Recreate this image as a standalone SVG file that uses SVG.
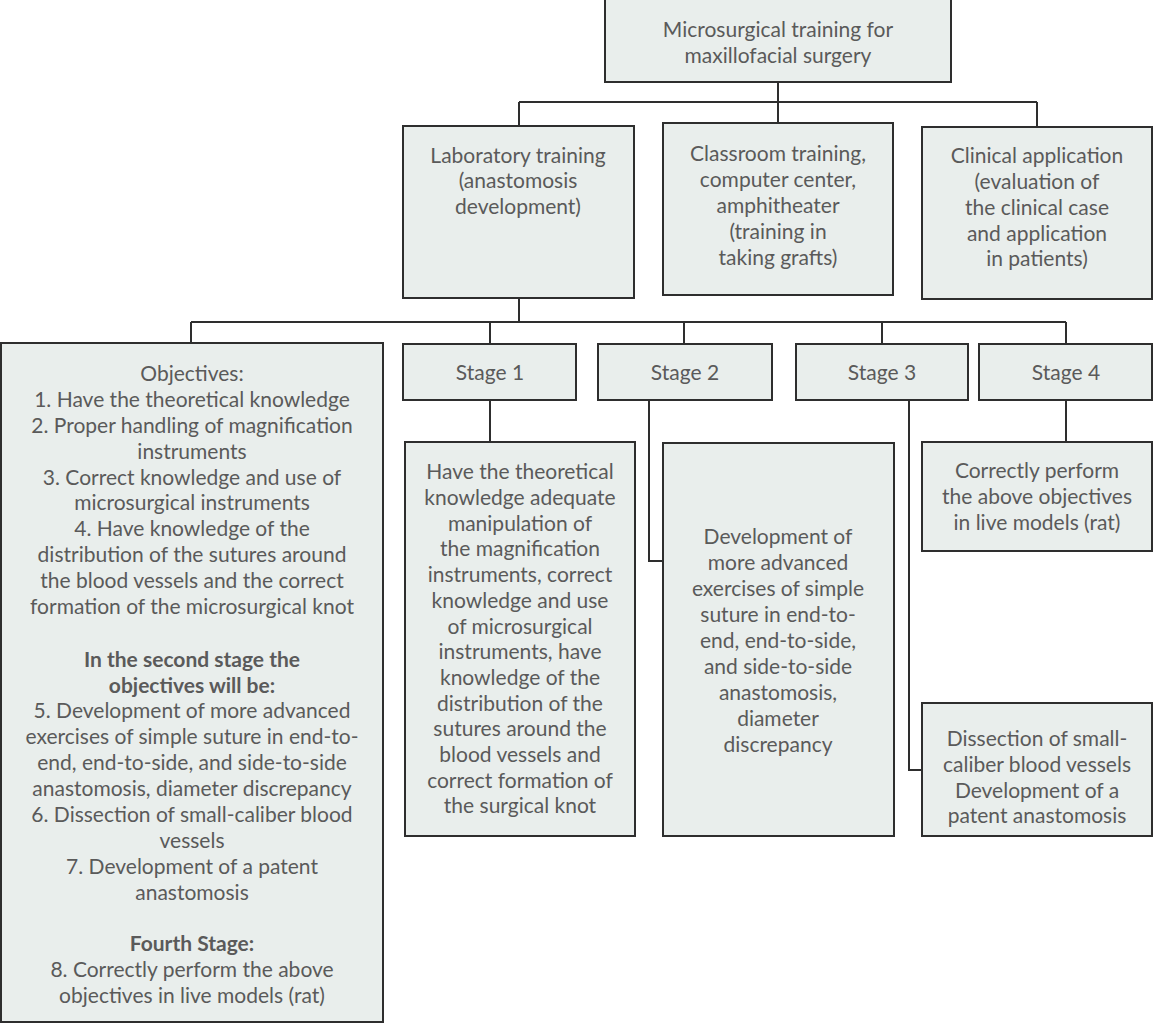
<svg xmlns="http://www.w3.org/2000/svg" width="1154" height="1024" viewBox="0 0 1154 1024">
<style>
.box{fill:#e9eeec;stroke:#2e2e2e;stroke-width:2}
.ln{fill:none;stroke:#2e2e2e;stroke-width:2}
text{font-family:Lato,"Open Sans","Liberation Sans",sans-serif;font-size:21px;fill:#5a5a5a;text-anchor:middle}
.b{font-weight:bold}
</style>
<rect width="1154" height="1024" fill="#ffffff"/>
<g id="connectors">
<path class="ln" d="M778 82V102M519 102H1037M519 102V126M778 102V123M1037 102V127"/>
<path class="ln" d="M519 298V322M191 322H1066M191 322V343M490 322V344M684 322V344M882 322V344M1066 322V344"/>
<path class="ln" d="M490 400V442M649 400V561H663M909 400V770H922M1066 400V442"/>
</g>
<g id="root"><rect class="box" x="605" y="-1" width="346" height="83"/>
<text x="778" y="37">Microsurgical training for</text><text x="778" y="63">maxillofacial surgery</text></g>
<g id="lab"><rect class="box" x="403" y="126" width="231" height="172"/>
<text x="518" y="163">Laboratory training</text><text x="518" y="188">(anastomosis</text><text x="518" y="214">development)</text></g>
<g id="classroom"><rect class="box" x="663" y="123" width="230" height="172"/>
<text x="778" y="161">Classroom training,</text><text x="778" y="187">computer center,</text><text x="778" y="213">amphitheater</text><text x="778" y="239">(training in</text><text x="778" y="265">taking grafts)</text></g>
<g id="clinical"><rect class="box" x="922" y="127" width="230" height="172"/>
<text x="1037" y="163">Clinical application</text><text x="1037" y="189">(evaluation of</text><text x="1037" y="215">the clinical case</text><text x="1037" y="241">and application</text><text x="1037" y="266">in patients)</text></g>
<g id="objectives"><rect class="box" x="1" y="343" width="382" height="679"/>
<text x="192" y="381">Objectives:</text>
<text x="192" y="407">1. Have the theoretical knowledge</text>
<text x="192" y="433">2. Proper handling of magnification</text>
<text x="192" y="459">instruments</text>
<text x="192" y="485">3. Correct knowledge and use of</text>
<text x="192" y="510">microsurgical instruments</text>
<text x="192" y="536">4. Have knowledge of the</text>
<text x="192" y="562">distribution of the sutures around</text>
<text x="192" y="588">the blood vessels and the correct</text>
<text x="192" y="614">formation of the microsurgical knot</text>
<text class="b" x="192" y="667">In the second stage the</text>
<text class="b" x="192" y="693">objectives will be:</text>
<text x="192" y="718">5. Development of more advanced</text>
<text x="192" y="744">exercises of simple suture in end-to-</text>
<text x="192" y="770">end, end-to-side, and side-to-side</text>
<text x="192" y="796">anastomosis, diameter discrepancy</text>
<text x="192" y="822">6. Dissection of small-caliber blood</text>
<text x="192" y="848">vessels</text>
<text x="192" y="874">7. Development of a patent</text>
<text x="192" y="900">anastomosis</text>
<text class="b" x="192" y="951">Fourth Stage:</text>
<text x="192" y="977">8. Correctly perform the above</text>
<text x="192" y="1003">objectives in live models (rat)</text></g>
<g id="stage1"><rect class="box" x="403" y="344" width="173" height="56"/><text x="490" y="380">Stage 1</text></g>
<g id="stage2"><rect class="box" x="598" y="344" width="174" height="56"/><text x="685" y="380">Stage 2</text></g>
<g id="stage3"><rect class="box" x="796" y="344" width="172" height="56"/><text x="882" y="380">Stage 3</text></g>
<g id="stage4"><rect class="box" x="979" y="344" width="173" height="56"/><text x="1066" y="380">Stage 4</text></g>
<g id="stage1-detail"><rect class="box" x="405" y="442" width="230" height="394"/>
<text x="520" y="479">Have the theoretical</text>
<text x="520" y="505">knowledge adequate</text>
<text x="520" y="531">manipulation of</text>
<text x="520" y="556">the magnification</text>
<text x="520" y="582">instruments, correct</text>
<text x="520" y="608">knowledge and use</text>
<text x="520" y="634">of microsurgical</text>
<text x="520" y="659">instruments, have</text>
<text x="520" y="685">knowledge of the</text>
<text x="520" y="711">distribution of the</text>
<text x="520" y="736">sutures around the</text>
<text x="520" y="762">blood vessels and</text>
<text x="520" y="788">correct formation of</text>
<text x="520" y="813">the surgical knot</text></g>
<g id="stage2-detail"><rect class="box" x="663" y="443" width="231" height="393"/>
<text x="778" y="544">Development of</text>
<text x="778" y="570">more advanced</text>
<text x="778" y="596">exercises of simple</text>
<text x="778" y="622">suture in end-to-</text>
<text x="778" y="648">end, end-to-side,</text>
<text x="778" y="674">and side-to-side</text>
<text x="778" y="700">anastomosis,</text>
<text x="778" y="726">diameter</text>
<text x="778" y="752">discrepancy</text></g>
<g id="stage3-detail"><rect class="box" x="922" y="703" width="230" height="133"/>
<text x="1037" y="746">Dissection of small-</text>
<text x="1037" y="772">caliber blood vessels</text>
<text x="1037" y="798">Development of a</text>
<text x="1037" y="823">patent anastomosis</text></g>
<g id="stage4-detail"><rect class="box" x="922" y="442" width="230" height="109"/>
<text x="1037" y="478">Correctly perform</text>
<text x="1037" y="504">the above objectives</text>
<text x="1037" y="530">in live models (rat)</text></g>
</svg>
